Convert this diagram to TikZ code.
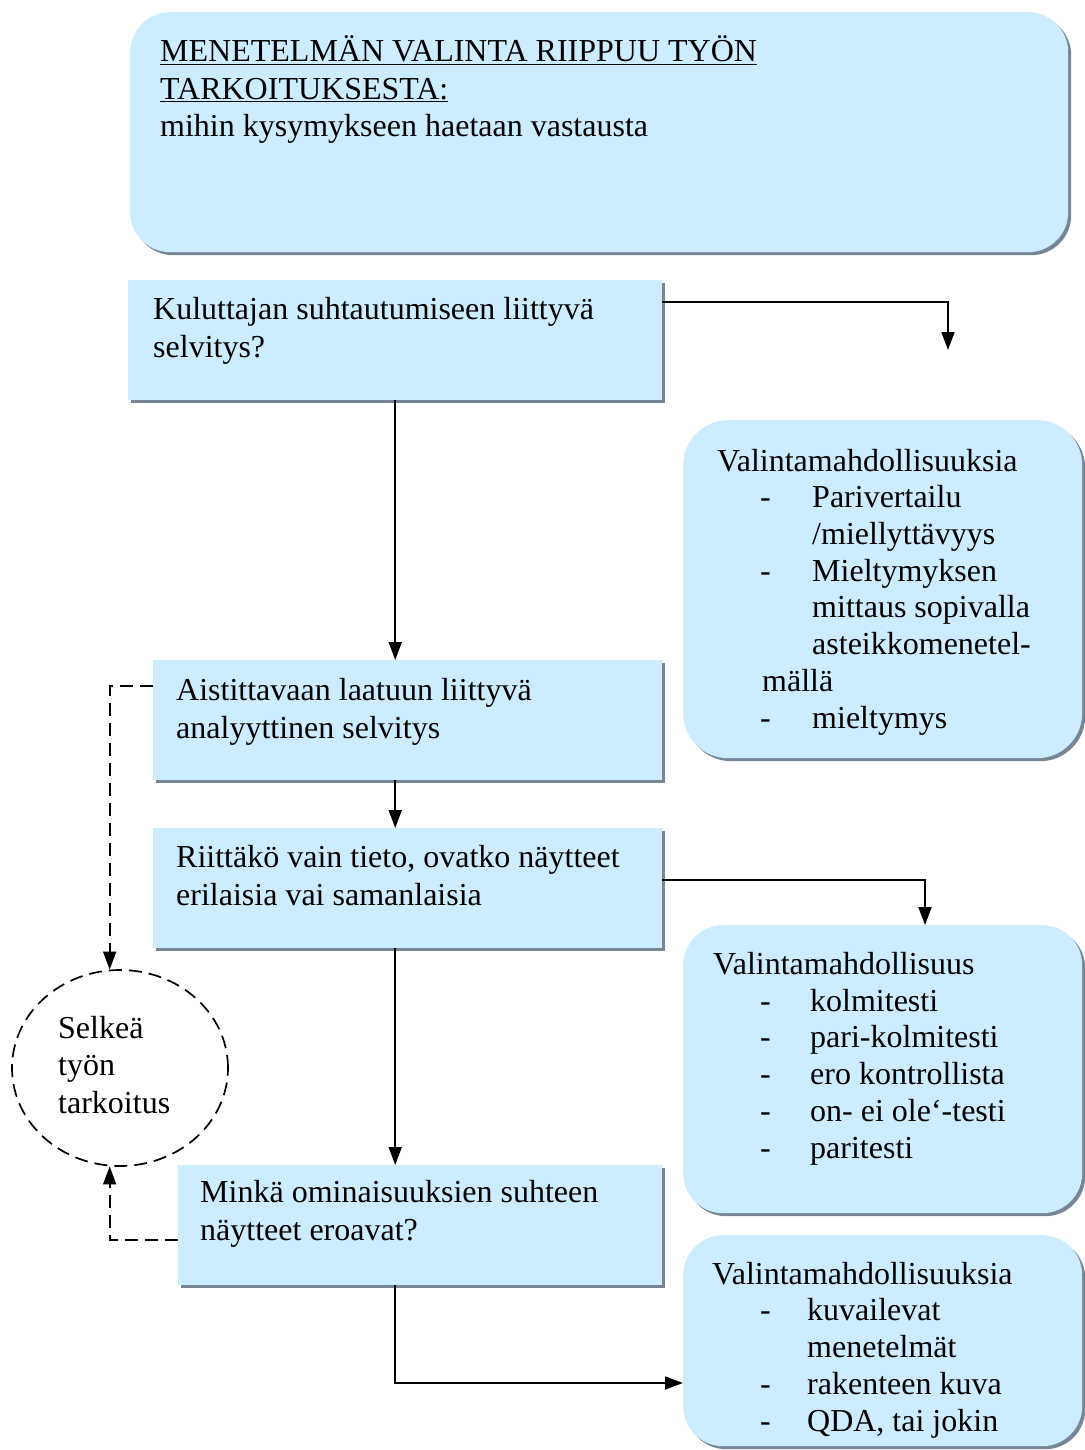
\documentclass[tikz,border=0pt]{standalone}
\usepackage{fontspec}
\setmainfont{Liberation Serif}
\usetikzlibrary{arrows.meta,shapes.geometric,shadows,calc}
\definecolor{boxfill}{RGB}{204,236,255}
\definecolor{shadowc}{RGB}{118,134,150}
\begin{document}
\begin{tikzpicture}[x=1pt,y=-1pt,
  box/.style={fill=boxfill, draw=none, anchor=north west, inner sep=0pt,
    general shadow={fill=shadowc, shadow xshift=3pt, shadow yshift=-3pt}},
  rbox/.style={box, rounded corners=40pt},
  txt/.style={anchor=base west, inner sep=0pt, align=left, font=\fontsize{32}{37.5}\selectfont},
  rtxt/.style={txt, font=\fontsize{32}{36.7}\selectfont},
  tip/.style={-{Triangle[length=18pt,width=13pt]}},
  arr/.style={line width=1.7pt, tip},
  dsh/.style={line width=1.7pt, dash pattern=on 13pt off 7pt},
]
\useasboundingbox (0,0) rectangle (1084,1450);

% boxes
\node[rbox, minimum width=938pt, minimum height=240pt] (top) at (130,12) {};
\node[box, minimum width=534pt, minimum height=120pt] (b1) at (128,280) {};
\node[rbox, rounded corners=45pt, minimum width=399pt, minimum height=338pt] (ra) at (683,420) {};
\node[box, minimum width=509pt, minimum height=120pt] (b2) at (153,660) {};
\node[box, minimum width=509pt, minimum height=120pt] (b3) at (153,828) {};
\node[rbox, minimum width=399pt, minimum height=288pt] (rb) at (683,925) {};
\node[box, minimum width=484pt, minimum height=120pt] (b4) at (178,1165) {};
\node[rbox, minimum width=399pt, minimum height=211pt] (rc) at (683,1235) {};
\node[draw, ellipse, dsh, minimum width=216pt, minimum height=196pt, inner sep=0pt] (goal) at (120,1068) {};

% texts (anchored at baseline of last line)
\node[txt] (ttop) at (160,137) {\underline{MENETELMÄN VALINTA RIIPPUU TYÖN}\\\underline{TARKOITUKSESTA:}\\mihin kysymykseen haetaan vastausta};
\node[txt] (t1) at (153,357) {Kuluttajan suhtautumiseen liittyvä\\selvitys?};
\node[txt] (t2) at (176,738) {Aistittavaan laatuun liittyvä\\analyyttinen selvitys};
\node[txt] (t3) at (176,905) {Riittäkö vain tieto, ovatko näytteet\\erilaisia vai samanlaisia};
\node[txt] (t4) at (200,1240) {Minkä ominaisuuksien suhteen\\näytteet eroavat?};
\node[txt] (tg) at (58,1113) {Selkeä\\työn\\tarkoitus};

\node[rtxt] (ta) at (717,728) {Valintamahdollisuuksia\\
\hspace*{43pt}\makebox[52pt][l]{-}Parivertailu\\
\hspace*{95pt}/miellyttävyys\\
\hspace*{43pt}\makebox[52pt][l]{-}Mieltymyksen\\
\hspace*{95pt}mittaus sopivalla\\
\hspace*{95pt}asteikkomenetel-\\
\hspace*{45pt}mällä\\
\hspace*{43pt}\makebox[52pt][l]{-}mieltymys};

\node[rtxt] (tb) at (713,1158) {Valintamahdollisuus\\
\hspace*{47pt}\makebox[50pt][l]{-}kolmitesti\\
\hspace*{47pt}\makebox[50pt][l]{-}pari-kolmitesti\\
\hspace*{47pt}\makebox[50pt][l]{-}ero kontrollista\\
\hspace*{47pt}\makebox[50pt][l]{-}on- ei ole\symbol{96}-testi\\
\hspace*{47pt}\makebox[50pt][l]{-}paritesti};

\node[rtxt] (tc) at (712,1431) {Valintamahdollisuuksia\\
\hspace*{48pt}\makebox[47pt][l]{-}kuvailevat\\
\hspace*{95pt}menetelmät\\
\hspace*{48pt}\makebox[47pt][l]{-}rakenteen kuva\\
\hspace*{48pt}\makebox[47pt][l]{-}QDA, tai jokin};

% connectors
\coordinate (aEnd) at (948,350);
\draw[arr] ($(b1.north east)+(0,22)$) -| (aEnd);
\draw[arr] (b1.south) -- (b1.south |- b2.north);
\draw[arr] (b1.south |- b2.south) -- (b1.south |- b3.north);
\draw[arr] ($(b3.north east)+(0,52)$) -| ($(rb.north west)+(242,0)$);
\draw[arr] (b1.south |- b3.south) -- (b1.south |- b4.north);
\draw[arr] (b1.south |- b4.south) |- ($(rc.north west)+(0,148)$);
\draw[dsh, tip] ($(b2.north west)+(0,26)$) -| (goal.96);
\draw[dsh, tip] ($(b4.north west)+(0,75)$) -| (goal.264);
\end{tikzpicture}
\end{document}
